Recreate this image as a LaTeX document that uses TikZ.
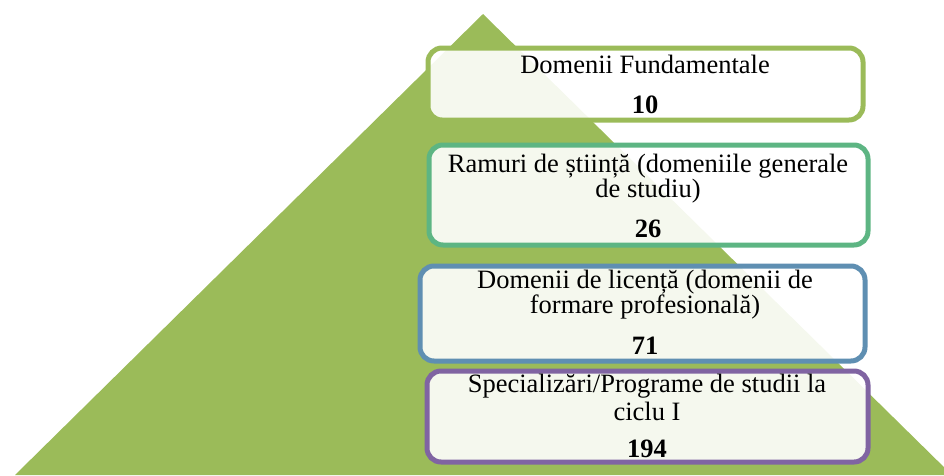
\documentclass[tikz,border=0pt]{standalone}
\usepackage{fontspec}
\setmainfont{Liberation Serif}
\definecolor{pyrgreen}{HTML}{9BBB59}
\definecolor{bordA}{HTML}{9BBB59}
\definecolor{bordB}{HTML}{5DB583}
\definecolor{bordC}{HTML}{5F8FB2}
\definecolor{bordD}{HTML}{8064A2}
\tikzset{
  tbox/.style={line width=5pt, rounded corners=14pt, fill=white, fill opacity=0.9, draw opacity=1, inner sep=0pt},
  tline/.style={anchor=base, inner sep=0pt, font=\fontsize{26.5}{26}\selectfont},
  tnum/.style={anchor=base, inner sep=0pt, font=\fontsize{26.5}{26}\selectfont\bfseries},
}
\begin{document}
\begin{tikzpicture}[x=1pt,y=-1pt]
\useasboundingbox (0,0) rectangle (944,475);
\clip (0,0) rectangle (944,475);
\fill[pyrgreen] (483,14) coordinate (apex) -- (15,475) coordinate (bl) -- (952,475) coordinate (br) -- cycle;
% boxes
\draw[tbox, draw=bordA] (428,48) rectangle (863,120);
\draw[tbox, draw=bordB] (429,145) rectangle (868,245);
\draw[tbox, draw=bordC] (420,266) rectangle (865,361);
\draw[tbox, draw=bordD] (427,371) rectangle (868,462);
% texts
\node[tline] (a1) at (645,73) {Domenii Fundamentale};
\node[tnum] (a2) at (645,113) {10};
\node[tline] (b1) at (648,172) {Ramuri de știință (domeniile generale};
\node[tline] (b2) at (648,197) {de studiu)};
\node[tnum] (b3) at (648,237) {26};
\node[tline] (c1) at (645,288) {Domenii de licență (domenii de};
\node[tline] (c2) at (645,313) {formare profesională)};
\node[tnum] (c3) at (645,354) {71};
\node[tline] (d1) at (647,392) {Specializări/Programe de studii la};
\node[tline] (d2) at (647,420) {ciclu I};
\node[tnum] (d3) at (647,457) {194};
\end{tikzpicture}
\end{document}
